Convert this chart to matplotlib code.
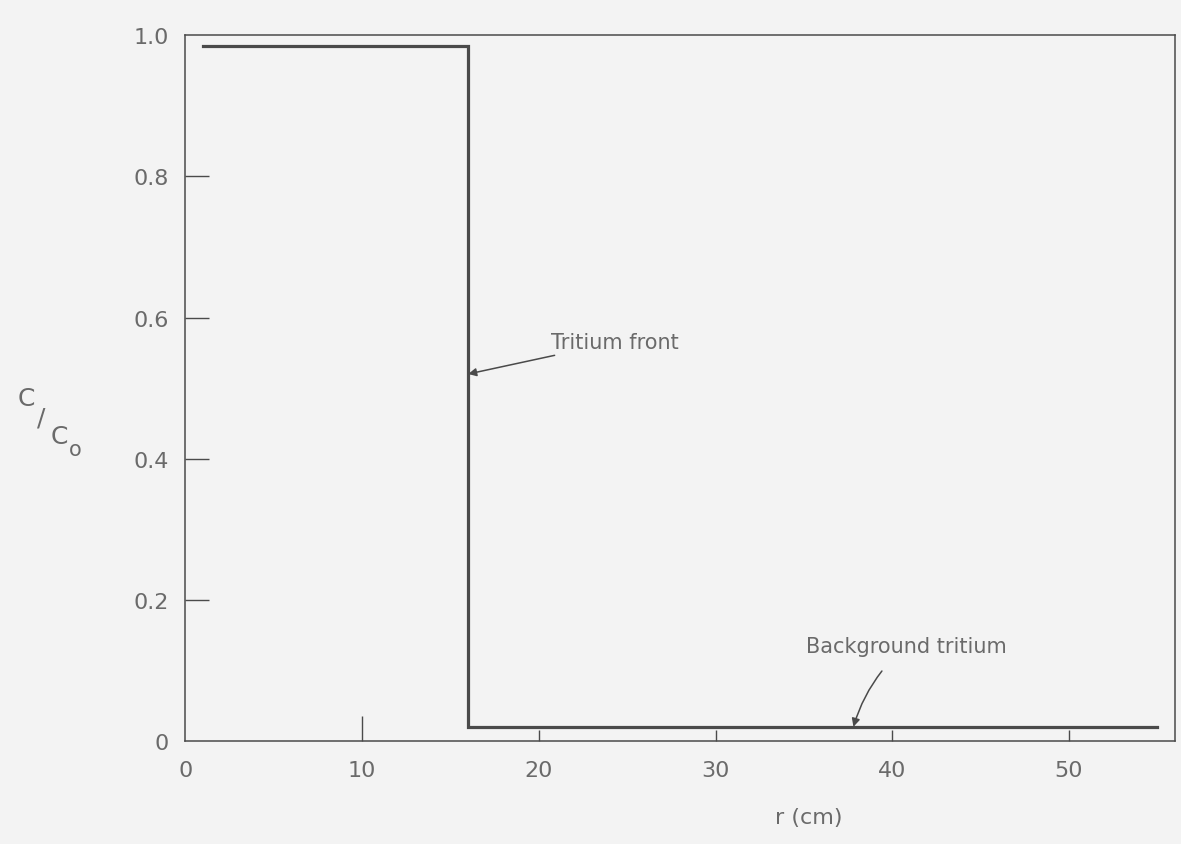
import numpy as np
import matplotlib.pyplot as plt

# Concentration profile C/Co against radius r (cm)
r_values = [1.0, 16.0, 16.0, 55.0]
c_ratio = [0.985, 0.985, 0.02, 0.02]

x_ticks = [0, 10, 20, 30, 40, 50]
y_ticks = [0, 0.2, 0.4, 0.6, 0.8, 1.0]
y_tick_labels = ['0', '0.2', '0.4', '0.6', '0.8', '1.0']

ink = '#4a4a4a'
text_grey = '#6a6a6a'
paper = '#f3f3f3'

plt.rcParams['font.family'] = ['DejaVu Sans']

fig = plt.figure(figsize=(11.81, 8.45), dpi=100, facecolor=paper)
ax = fig.add_axes([0.157, 0.122, 0.838, 0.835])
ax.set_facecolor(paper)

ax.plot(r_values, c_ratio, color=ink, linewidth=2.3, solid_joinstyle='miter')

ax.set_xlim(0, 56)
ax.set_ylim(0, 1.0)

ax.set_xticks(x_ticks)
ax.set_xticklabels([str(t) for t in x_ticks])
ax.set_yticks(y_ticks)
ax.set_yticklabels(y_tick_labels)

ax.tick_params(axis='both', direction='in', colors=ink, labelcolor=text_grey,
               labelsize=16, width=1.0)
ax.tick_params(axis='y', length=17, pad=12)
ax.tick_params(axis='x', length=8, pad=14)

# no marks at the ends of the y axis, a taller one at r = 10
yt = ax.yaxis.get_major_ticks()
yt[0].tick1line.set_visible(False)
yt[-1].tick1line.set_visible(False)
ax.xaxis.get_major_ticks()[0].tick1line.set_visible(False)
ax.xaxis.get_major_ticks()[1].tick1line.set_markersize(18)

for spine in ax.spines.values():
    spine.set_color(ink)
    spine.set_linewidth(1.1)

# Axis titles
fig.text(0.685, 0.02, 'r (cm)', ha='center', va='bottom', fontsize=16,
         color=text_grey)
fig.text(0.022, 0.528, 'C', fontsize=18, color=text_grey, ha='center', va='center')
fig.text(0.035, 0.505, '/', fontsize=18, color=text_grey, ha='center', va='center')
fig.text(0.050, 0.483, 'C', fontsize=18, color=text_grey, ha='center', va='center')
fig.text(0.064, 0.468, 'o', fontsize=15, color=text_grey, ha='center', va='center')

# Annotations
ax.annotate('Tritium front', xy=(16.0, 0.52), xytext=(20.7, 0.565),
            fontsize=15, color=text_grey, va='center', ha='left',
            arrowprops=dict(arrowstyle='-|>', color=ink, lw=1.1,
                            mutation_scale=12, shrinkA=1, shrinkB=0))
ax.annotate('Background tritium', xy=(37.8, 0.02), xytext=(40.8, 0.135),
            fontsize=15, color=text_grey, va='center', ha='center',
            arrowprops=dict(arrowstyle='-|>', color=ink, lw=1.1,
                            mutation_scale=12, shrinkA=12, shrinkB=0,
                            connectionstyle='arc3,rad=0.15'))

fig.savefig('out.png', dpi=100, facecolor=paper)
